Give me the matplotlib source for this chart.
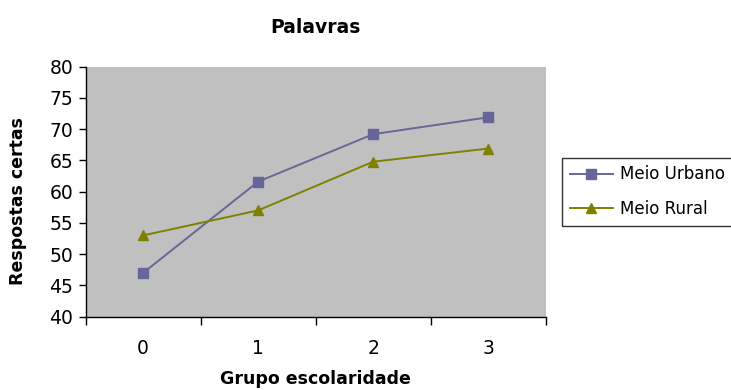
import numpy as np
import matplotlib
matplotlib.use('Agg')
import matplotlib.pyplot as plt

# reference text is wide (stretched Arial); DejaVu gives a closer footprint
plt.rcParams['font.family'] = ['DejaVu Sans']

# data
groups = ['0', '1', '2', '3']
urbano = [47.0, 61.6, 69.2, 71.9]
rural = [53.0, 57.0, 64.8, 66.9]

fig = plt.figure(figsize=(7.31, 3.90), dpi=100)
ax = fig.add_axes([0.117, 0.188, 0.6295, 0.641])
ax.set_facecolor('#C0C0C0')

x = np.arange(len(groups))
l1, = ax.plot(x, urbano, color='#666699', lw=1.4, marker='s', ms=6.8,
              label='Meio Urbano')
l2, = ax.plot(x, rural, color='#808000', lw=1.4, marker='^', ms=7.8,
              label='Meio Rural')

ax.set_xlim(-0.5, 3.5)
ax.set_ylim(40, 80)
ax.set_yticks(np.arange(40, 81, 5))
ax.set_xticks(np.arange(-0.5, 3.6, 1.0))
ax.set_xticklabels([])
ax.set_xticks(x, minor=True)
ax.set_xticklabels(groups, minor=True)
ax.tick_params(axis='x', which='major', direction='out', length=6, width=1)
ax.tick_params(axis='x', which='minor', length=0, pad=16, labelsize=13.5)
ax.tick_params(axis='y', direction='out', length=5, width=1, labelsize=13.5, pad=4)

for s in ['top', 'right']:
    ax.spines[s].set_visible(False)
for s in ['left', 'bottom']:
    ax.spines[s].set_linewidth(1)

ax.set_title('Palavras', fontsize=13.5, fontweight='bold', pad=24)
ax.set_xlabel('Grupo escolaridade', fontsize=12.5, fontweight='bold', labelpad=9)
ax.set_ylabel('Respostas certas', fontsize=12.5, fontweight='bold')
ax.yaxis.set_label_coords(-0.128, 0.463)

leg = fig.legend(handles=[l1, l2], loc='upper left',
                 bbox_to_anchor=(0.769, 0.595), fontsize=12,
                 frameon=True, fancybox=False, edgecolor='black',
                 borderpad=0.45, handlelength=2.6, labelspacing=1.0,
                 handletextpad=0.45, borderaxespad=0)
leg.get_frame().set_linewidth(1)

fig.savefig('out.png', dpi=100)
